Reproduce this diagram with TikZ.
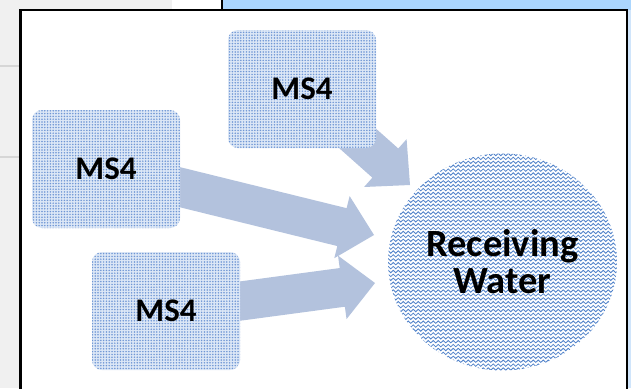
\documentclass[tikz,border=0pt]{standalone}
\usepackage{fontspec}
\setmainfont{Carlito}
\usetikzlibrary{calc,shapes.geometric,patterns.meta,decorations.pathmorphing}

\definecolor{chromegray}{RGB}{240,240,240}
\definecolor{chromeline}{RGB}{214,214,214}
\definecolor{chromeblue}{RGB}{171,214,254}
\definecolor{paleblue}{RGB}{208,229,251}
\definecolor{arrowfill}{RGB}{179,194,221}
\definecolor{dotblue}{RGB}{110,150,212}
\definecolor{boxtint}{RGB}{220,231,246}
\definecolor{waveblue}{RGB}{80,130,202}

\pgfdeclarelayer{chrome}
\pgfdeclarelayer{flow}
\pgfsetlayers{chrome,flow,main}

\tikzset{
  source/.style={rectangle, rounded corners=10pt, minimum width=148pt,
    minimum height=118pt, inner sep=0pt, preaction={fill=boxtint},
    pattern={Dots[radius=0.85pt, distance=2.8pt]}, pattern color=dotblue,
    font=\fontsize{33}{36}\selectfont\bfseries},
  waveline/.style={draw=waveblue, line width=0.8pt, decorate,
    decoration={zigzag, segment length=5pt, amplitude=1.2pt}},
  receiver/.style={ellipse, minimum width=229pt, minimum height=217pt,
    inner sep=0pt, fill=white, align=center,
    font=\fontsize{38.5}{37}\selectfont\bfseries,
    path picture={
      \foreach \k in {0,...,57}
        \draw[waveline] ($(path picture bounding box.north west)+(-6,\k*3.9+1)$) -- ++(245,0);
    }},
  frameline/.style={line width=2.5pt, draw=black},
}

% block arrow from the centre of a source node to a tip coordinate
\newcommand\flowarrow[2]{%
  \coordinate (#2-base) at ($(#2)!33pt!(#1.center)$);
  \fill[arrowfill]
    ($(#1.center)!19.5pt!90:(#2)$)
    -- ($(#2-base)!19.5pt!-90:(#1.center)$)
    -- ($(#2-base)!32pt!-90:(#1.center)$)
    -- (#2)
    -- ($(#2-base)!32pt!90:(#1.center)$)
    -- ($(#2-base)!19.5pt!90:(#1.center)$)
    -- ($(#1.center)!19.5pt!-90:(#2)$)
    -- cycle;
}

\begin{document}
\begin{tikzpicture}[x=1pt, y=-1pt]
\useasboundingbox (0,0) rectangle (631,388);

% window surroundings
\begin{pgfonlayer}{chrome}
  \fill[white] (0,0) rectangle (631,388);
  \fill[chromegray] (0,0) rectangle (172,10);
  \fill[chromegray] (0,0) rectangle (20,388);
  \draw[chromeline, line width=1.5pt] (0,66) -- (20,66);
  \draw[chromeline, line width=1.5pt] (0,157) -- (20,157);
  \fill[chromeblue] (223,0) rectangle (631,10);
  \fill[paleblue] (627,10) rectangle (631,388);
  \draw[line width=2pt] (222,0) -- (222,10);
  \draw[frameline] (20.5,400) -- (20.5,9.8) -- (626.8,9.8) -- (626.8,400);
\end{pgfonlayer}

% sources and receiving water
\node[source] (ms4top) at (302,89) {MS4};
\node[source] (ms4left) at (106,169) {MS4};
\node[source] (ms4low) at (166,311) {MS4};
\node[receiver] (water) at (502.5,262) {Receiving\\Water};

% arrow tips at the edge of the receiving water
\coordinate (tipA) at (410,185);
\coordinate (tipB) at (374,235);
\coordinate (tipC) at (375,283);

\begin{pgfonlayer}{flow}
  \flowarrow{ms4top}{tipA}
  \flowarrow{ms4left}{tipB}
  \flowarrow{ms4low}{tipC}
\end{pgfonlayer}
\end{tikzpicture}
\end{document}
